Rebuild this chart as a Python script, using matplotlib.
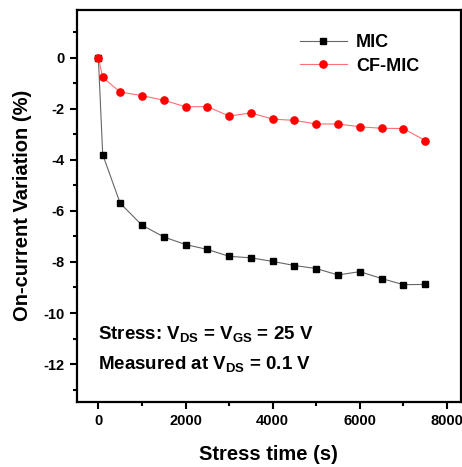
import matplotlib
matplotlib.use("Agg")
import matplotlib.pyplot as plt
from matplotlib.ticker import MultipleLocator

plt.rcParams['font.family'] = ['Liberation Sans', 'DejaVu Sans']
plt.rcParams['font.weight'] = 'bold'
plt.rcParams['axes.unicode_minus'] = False
plt.rcParams['mathtext.fontset'] = 'custom'
plt.rcParams['mathtext.rm'] = 'Liberation Sans:bold'
plt.rcParams['mathtext.bf'] = 'Liberation Sans:bold'
plt.rcParams['mathtext.it'] = 'Liberation Sans:bold'

time_s = [0, 100, 500, 1000, 1500, 2000, 2500, 3000, 3500, 4000, 4500, 5000, 5500, 6000, 6500, 7000, 7500]
mic = [0, -3.80, -5.70, -6.56, -7.02, -7.32, -7.51, -7.78, -7.84, -7.98, -8.14, -8.26, -8.51, -8.38, -8.65, -8.89, -8.88]
cf_mic = [0, -0.78, -1.35, -1.49, -1.67, -1.93, -1.92, -2.29, -2.17, -2.41, -2.46, -2.60, -2.60, -2.71, -2.77, -2.78, -3.25]

fig = plt.figure(figsize=(4.62, 4.67), dpi=100)
ax = fig.add_axes([77/462, 65.3/467, (460.5-77)/462, (401.7-10)/467])

ax.plot(time_s, mic, color='#666666', lw=0.8, marker='s', ms=4.6,
        mfc='black', mec='black', label='MIC', zorder=3)
ax.plot(time_s, cf_mic, color='#ff7070', lw=0.8, marker='o', ms=5.2,
        mfc='red', mec='red', label='CF-MIC', zorder=4)

ax.set_xlim(-490, 8310)
ax.set_ylim(-13.47, 1.86)
ax.xaxis.set_major_locator(MultipleLocator(2000))
ax.xaxis.set_minor_locator(MultipleLocator(1000))
ax.yaxis.set_major_locator(MultipleLocator(2))
ax.yaxis.set_minor_locator(MultipleLocator(1))
ax.tick_params(which='major', direction='out', length=5, width=1.5, labelsize=10.5, pad=4)
ax.tick_params(which='minor', direction='out', length=3, width=1.5)
for lab in ax.get_xticklabels() + ax.get_yticklabels():
    lab.set_fontweight('bold')
for s in ax.spines.values():
    s.set_linewidth(1.6)

ax.set_xlabel('Stress time (s)', fontsize=14.5, fontweight='bold', labelpad=12)
ax.set_ylabel('On-current Variation (%)', fontsize=14.5, fontweight='bold', labelpad=8)

leg = ax.legend(loc='upper right', bbox_to_anchor=(0.925, 0.97), frameon=False,
                fontsize=13, handlelength=2.6, handletextpad=0.5, labelspacing=0.35,
                borderaxespad=0.3)
for t in leg.get_texts():
    t.set_fontweight('bold')

ax.text(0.055, 0.16, r'Stress: V$_{\mathrm{DS}}$ = V$_{\mathrm{GS}}$ = 25 V',
        transform=ax.transAxes, fontsize=13.5, fontweight='bold', va='baseline')
ax.text(0.055, 0.083, r'Measured at V$_{\mathrm{DS}}$ = 0.1 V',
        transform=ax.transAxes, fontsize=13.5, fontweight='bold', va='baseline')

fig.savefig('out.png', dpi=100)
